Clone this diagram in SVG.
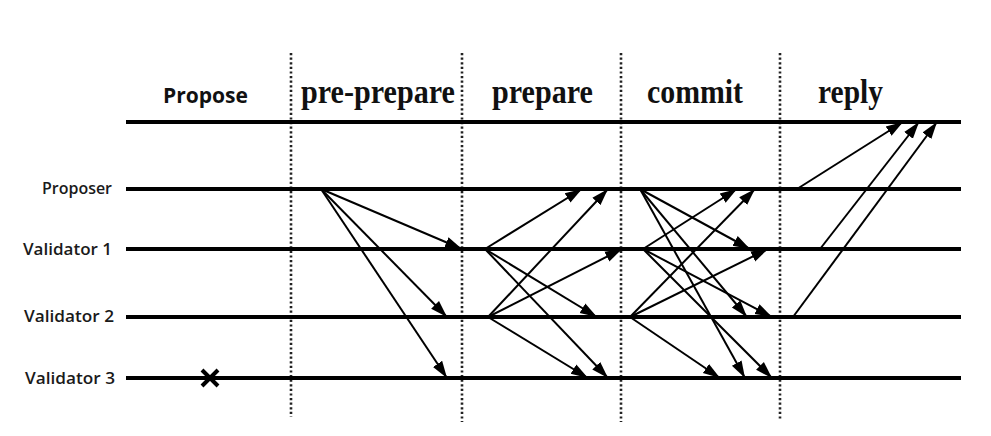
<svg xmlns="http://www.w3.org/2000/svg" width="991" height="436" viewBox="0 0 991 436">
<defs>
<marker id="ah" markerUnits="userSpaceOnUse" markerWidth="18" markerHeight="14" viewBox="0 0 18 14" refX="17" refY="7" orient="auto">
<path d="M0,1.5 L17,7 L0,12.5 Z" fill="#000"/>
</marker>
<style>
.life{stroke:#000;stroke-width:4;fill:none}
.div{stroke:#222;stroke-width:2.6;stroke-dasharray:2.2 2.4;fill:none}
.msg{stroke:#000;stroke-width:2;fill:none;marker-end:url(#ah)}
.phase{font-family:"Liberation Serif","Times New Roman",serif;font-weight:bold;font-size:33px;fill:#111}
.lbl{font-family:"Open Sans","DejaVu Sans",sans-serif;font-weight:600;font-size:17px;fill:#1a1a1a;text-anchor:end}
.hdr{font-family:"Open Sans","DejaVu Sans",sans-serif;font-weight:bold;font-size:21px;fill:#111}
</style>
</defs>
<rect width="991" height="436" fill="#fff"/>

<g id="dividers">
<line class="div" x1="291" y1="53" x2="291" y2="417"/>
<line class="div" x1="462" y1="53" x2="462" y2="422"/>
<line class="div" x1="621" y1="53" x2="621" y2="422"/>
<line class="div" x1="780" y1="53" x2="780" y2="420"/>
</g>

<g id="headers">
<text class="hdr" x="163" y="103" textLength="85" lengthAdjust="spacingAndGlyphs">Propose</text>
<text class="phase" x="301" y="103" textLength="154" lengthAdjust="spacingAndGlyphs">pre-prepare</text>
<text class="phase" x="492" y="103" textLength="101" lengthAdjust="spacingAndGlyphs">prepare</text>
<text class="phase" x="647" y="103" textLength="96" lengthAdjust="spacingAndGlyphs">commit</text>
<text class="phase" x="818" y="103" textLength="65" lengthAdjust="spacingAndGlyphs">reply</text>
</g>

<g id="client-line">
<line class="life" x1="126" y1="122" x2="961" y2="122"/>
</g>

<g id="proposer">
<text class="lbl" x="112" y="194" textLength="70" lengthAdjust="spacingAndGlyphs">Proposer</text>
<line class="life" x1="126" y1="189" x2="961" y2="189"/>
</g>
<g id="validator1">
<text class="lbl" x="112" y="255" textLength="89" lengthAdjust="spacingAndGlyphs">Validator 1</text>
<line class="life" x1="126" y1="249" x2="961" y2="249"/>
</g>
<g id="validator2">
<text class="lbl" x="114" y="322" textLength="90" lengthAdjust="spacingAndGlyphs">Validator 2</text>
<line class="life" x1="126" y1="317" x2="961" y2="317"/>
</g>
<g id="validator3">
<text class="lbl" x="115" y="384" textLength="90" lengthAdjust="spacingAndGlyphs">Validator 3</text>
<line class="life" x1="126" y1="378" x2="961" y2="378"/>
<path d="M202,370 L218,386 M218,370 L202,386" stroke="#000" stroke-width="4" fill="none"/>
</g>

<g id="connectors">
<!-- pre-prepare -->
<line class="msg" x1="321" y1="189" x2="462" y2="249"/>
<line class="msg" x1="321" y1="189" x2="447" y2="317"/>
<line class="msg" x1="321" y1="189" x2="447" y2="378"/>
<!-- prepare -->
<line class="msg" x1="485" y1="249" x2="582" y2="189"/>
<line class="msg" x1="485" y1="249" x2="597" y2="317"/>
<line class="msg" x1="485" y1="249" x2="608" y2="378"/>
<line class="msg" x1="488" y1="317" x2="608" y2="189"/>
<line class="msg" x1="488" y1="317" x2="622" y2="249"/>
<line class="msg" x1="488" y1="317" x2="588" y2="378"/>
<!-- commit -->
<line class="msg" x1="640" y1="189" x2="750" y2="249"/>
<line class="msg" x1="640" y1="189" x2="747" y2="317"/>
<line class="msg" x1="640" y1="189" x2="745" y2="378"/>
<line class="msg" x1="643" y1="249" x2="737" y2="189"/>
<line class="msg" x1="643" y1="249" x2="772" y2="317"/>
<line class="msg" x1="643" y1="249" x2="772" y2="378"/>
<line class="msg" x1="630" y1="317" x2="755" y2="189"/>
<line class="msg" x1="630" y1="317" x2="768" y2="249"/>
<line class="msg" x1="630" y1="317" x2="720" y2="378"/>
<!-- reply -->
<line class="msg" x1="797" y1="189" x2="903" y2="122"/>
<line class="msg" x1="820" y1="249" x2="919" y2="122"/>
<line class="msg" x1="793" y1="317" x2="937" y2="122"/>
</g>
</svg>
